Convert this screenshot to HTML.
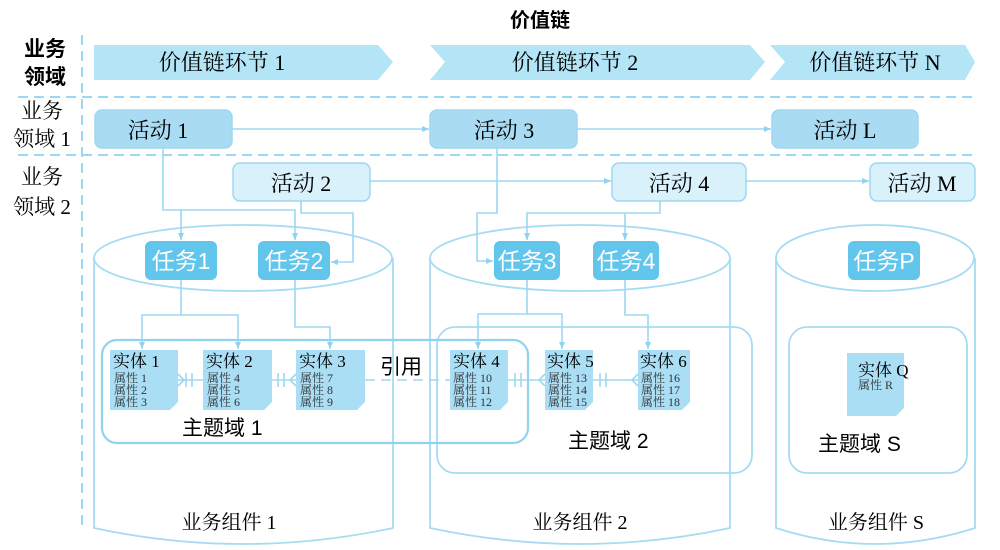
<!DOCTYPE html>
<html><head><meta charset="utf-8"><style>
html,body{margin:0;padding:0;background:#fff;}
svg text{font-family:"Liberation Serif","Noto Serif CJK SC",serif;}
.s{font-family:"Liberation Sans","Noto Sans CJK SC",sans-serif !important;}
</style></head><body>
<svg width="1000" height="545" viewBox="0 0 1000 545" xmlns="http://www.w3.org/2000/svg">
<defs><marker id="a" markerWidth="8" markerHeight="8" refX="7" refY="4" orient="auto" markerUnits="userSpaceOnUse"><path d="M0,1 L7,4 L0,7z" fill="#8fd3ef"/></marker></defs>
<g stroke="#9dd8f0" stroke-width="2" stroke-dasharray="10,6" fill="none">
<line x1="82" y1="35" x2="82" y2="525"/>
<line x1="18" y1="97" x2="975" y2="97"/>
<line x1="18" y1="155" x2="975" y2="155"/>
</g>
<text x="540" y="27" font-size="20" font-weight="bold" text-anchor="middle" class="s">价值链</text>
<g font-size="21" font-weight="bold" text-anchor="middle" class="s"><text x="45" y="56" class="s">业务</text><text x="45" y="84" class="s">领域</text></g>
<g font-size="21" text-anchor="middle"><text x="42" y="118">业务</text><text x="42" y="146">领域 1</text><text x="42" y="184">业务</text><text x="42" y="214">领域 2</text></g>
<g fill="#b3e5f7">
<polygon points="94,45 378,45 393,62 378,80 94,80"/>
<polygon points="430,45 750,45 765,62 750,80 430,80 445,62"/>
<polygon points="770,45 965,45 975,62 965,80 770,80 785,62"/>
</g>
<g font-size="22" text-anchor="middle"><text x="222" y="70">价值链环节 1</text><text x="575" y="70">价值链环节 2</text><text x="875" y="70">价值链环节 N</text></g>
<g fill="none" stroke="#a6dcf2" stroke-width="1.8">
<path d="M94,258 L94,528 Q243,560 393,528 L393,258"/><ellipse cx="243" cy="258" rx="149" ry="33"/>
<path d="M430,258 L430,528 Q580,560 730,528 L730,258"/><ellipse cx="580" cy="258" rx="150" ry="33"/>
<path d="M776,258 L776,528 Q875,560 975,528 L975,258"/><ellipse cx="875" cy="258" rx="99" ry="33"/>
<rect x="437" y="327" width="315" height="146" rx="18"/>
<rect x="789" y="327" width="178" height="146" rx="18"/>
<rect x="102" y="340" width="426" height="103" rx="15" stroke="#8fd3ef" stroke-width="2.2"/>
</g>
<g stroke="#9dd8f0" stroke-width="1.5">
<rect x="95" y="110" width="137" height="38" rx="7" fill="#a9dcf3"/>
<rect x="430" y="110" width="147" height="38" rx="7" fill="#a9dcf3"/>
<rect x="772" y="110" width="146" height="38" rx="7" fill="#a9dcf3"/>
<rect x="233" y="163" width="137" height="38" rx="7" fill="#d9f1fb"/>
<rect x="612" y="163" width="134" height="38" rx="7" fill="#d9f1fb"/>
<rect x="870" y="163" width="105" height="38" rx="7" fill="#d9f1fb"/>
</g>
<g font-size="22" text-anchor="middle"><text x="158" y="138">活动 1</text><text x="504" y="138">活动 3</text><text x="845" y="138">活动 L</text><text x="301" y="191">活动 2</text><text x="679" y="191">活动 4</text><text x="922" y="191">活动 M</text></g>
<g fill="none" stroke="#9dd8f0" stroke-width="1.6" marker-end="url(#a)">
<line x1="232" y1="129" x2="429" y2="129"/>
<line x1="577" y1="129" x2="771" y2="129"/>
<line x1="370" y1="181" x2="611" y2="181"/>
<line x1="746" y1="181" x2="869" y2="181"/>
<polyline points="163,148 163,210 181,210 181,240"/>
<polyline points="181,210 295,210 295,240"/>
<polyline points="301,201 301,213 353,213 353,262 331,262"/>
<polyline points="497,148 497,213 477,213 477,261 493,261"/>
<polyline points="660,201 660,213 527,213 527,240"/>
<polyline points="625,213 625,240"/>
<polyline points="181,280 181,315 142,315 142,349"/>
<polyline points="181,315 238,315 238,349"/>
<polyline points="295,280 295,327 330,327 330,349"/>
<polyline points="527,280 527,314 478,314 478,349"/>
<polyline points="527,314 562,314 562,349"/>
<polyline points="625,280 625,315 648,315 648,349"/>
</g>
<g fill="#62c5eb">
<rect x="145" y="241" width="72" height="39" rx="6"/><rect x="258" y="241" width="72" height="39" rx="6"/>
<rect x="494" y="241" width="66" height="39" rx="6"/><rect x="593" y="241" width="66" height="39" rx="6"/>
<rect x="848" y="241" width="72" height="39" rx="6"/>
</g>
<g font-size="23" fill="#fff" text-anchor="middle" class="s"><text x="181" y="269" class="s">任务1</text><text x="294" y="269" class="s">任务2</text><text x="527" y="269" class="s">任务3</text><text x="626" y="269" class="s">任务4</text><text x="884" y="269" class="s">任务P</text></g>
<g stroke="#9dd8f0" stroke-width="1.6" fill="none">
<line x1="178" y1="380" x2="203" y2="380"/><line x1="186" y1="373" x2="186" y2="387"/><line x1="192" y1="373" x2="192" y2="387"/><path d="M178,374 L184,380 L178,386"/>
<line x1="272" y1="380" x2="296" y2="380"/><line x1="278" y1="373" x2="278" y2="387"/><line x1="284" y1="373" x2="284" y2="387"/><path d="M296,374 L290,380 L296,386"/>
<line x1="365" y1="380" x2="450" y2="380" stroke-dasharray="10,6"/>
<line x1="508" y1="380" x2="545" y2="380"/><line x1="515" y1="373" x2="515" y2="387"/><line x1="521" y1="373" x2="521" y2="387"/><path d="M545,374 L539,380 L545,386"/>
<line x1="593" y1="380" x2="638" y2="380"/><line x1="600" y1="373" x2="600" y2="387"/><line x1="606" y1="373" x2="606" y2="387"/><path d="M638,374 L632,380 L638,386"/>
</g>
<g fill="#a9def5">
<path d="M110,350 H178 V402 L170,410 H110Z"/><path d="M203,350 H272 V402 L264,410 H203Z"/>
<path d="M296,350 H365 V402 L357,410 H296Z"/><path d="M450,350 H508 V402 L500,410 H450Z"/>
<path d="M545,350 H593 V402 L585,410 H545Z"/><path d="M638,350 H690 V402 L682,410 H638Z"/>
<path d="M847,353 H904 V408 L896,416 H847Z"/>
</g>
<g font-size="17">
<text x="113" y="367">实体 1</text><text x="206" y="367">实体 2</text><text x="299" y="367">实体 3</text><text x="453" y="367">实体 4</text><text x="547" y="367">实体 5</text><text x="640" y="367">实体 6</text><text x="858" y="376">实体 Q</text>
</g>
<g font-size="12" fill="#333">
<text x="114" y="382">属性 1</text><text x="114" y="394">属性 2</text><text x="114" y="406">属性 3</text>
<text x="207" y="382">属性 4</text><text x="207" y="394">属性 5</text><text x="207" y="406">属性 6</text>
<text x="300" y="382">属性 7</text><text x="300" y="394">属性 8</text><text x="300" y="406">属性 9</text>
<text x="453" y="382">属性 10</text><text x="453" y="394">属性 11</text><text x="453" y="406">属性 12</text>
<text x="548" y="382">属性 13</text><text x="548" y="394">属性 14</text><text x="548" y="406">属性 15</text>
<text x="641" y="382">属性 16</text><text x="641" y="394">属性 17</text><text x="641" y="406">属性 18</text>
<text x="858" y="389">属性 R</text>
</g>
<g font-size="21" class="s"><text x="380" y="374" class="s">引用</text><text x="182" y="435" class="s">主题域 1</text><text x="568" y="448" class="s">主题域 2</text><text x="818" y="451" class="s">主题域 S</text></g>
<g font-size="20" text-anchor="middle"><text x="229" y="529">业务组件 1</text><text x="580" y="529">业务组件 2</text><text x="876" y="529">业务组件 S</text></g>
</svg>
</body></html>
